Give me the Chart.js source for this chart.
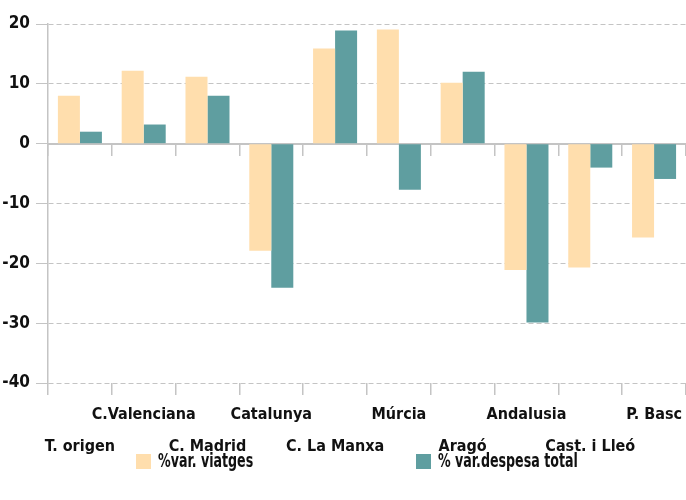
<!DOCTYPE html>
<html>
<head>
<meta charset="utf-8">
<script src="https://cdn.jsdelivr.net/npm/chart.js@4/dist/chart.umd.min.js"></script>
<style>
  html, body { margin: 0; padding: 0; background: #ffffff; }
  #wrap { width: 686px; height: 500px; position: relative; }
</style>
</head>
<body>
<div id="wrap"><canvas id="c" width="686" height="500"></canvas></div>
<script>
const categories = ['T. origen', 'C.Valenciana', 'C. Madrid', 'Catalunya', 'C. La Manxa', 'Múrcia', 'Aragó', 'Andalusia', 'Cast. i Lleó', 'P. Basc'];
const varViatges = [8.0, 12.2, 11.2, -17.9, 15.9, 19.1, 10.2, -21.1, -20.7, -15.7];
const varDespesa = [2.0, 3.2, 8.0, -24.1, 18.9, -7.7, 12.0, -29.9, -4.0, -5.9];
const seriesNames = ['%var. viatges', '% var.despesa total'];
const yMin = -40, yMax = 20, yStep = 10;

const FONT = "'DejaVu Sans Condensed', 'Liberation Sans Narrow', sans-serif";
const GRID = '#c4c4c4';

const bottomLegend = {
  id: 'bottomLegend',
  afterDraw(chart) {
    const ctx = chart.ctx;
    const lefts = [136, 416];
    ctx.save();
    ctx.font = 'bold 19px ' + FONT;
    ctx.textBaseline = 'middle';
    ctx.textAlign = 'left';
    chart.data.datasets.forEach((ds, i) => {
      ctx.fillStyle = ds.backgroundColor;
      ctx.fillRect(lefts[i], 454, 15, 15);
      ctx.save();
      ctx.translate(lefts[i] + 22, 462);
      ctx.scale(0.74, 1);
      ctx.fillStyle = '#111111';
      ctx.fillText(ds.label, 0, 0);
      ctx.restore();
    });
    ctx.restore();
  }
};

new Chart(document.getElementById('c'), {
  type: 'bar',
  data: {
    labels: categories,
    datasets: [
      { label: seriesNames[0], data: varViatges, backgroundColor: '#FFDEAD', xAxisID: 'x', yAxisID: 'y' },
      { label: seriesNames[1], data: varDespesa, backgroundColor: '#5F9EA0', xAxisID: 'x', yAxisID: 'y' }
    ]
  },
  options: {
    responsive: false,
    animation: false,
    devicePixelRatio: 1,
    categoryPercentage: 0.69,
    barPercentage: 1.0,
    layout: { padding: { top: 24, right: -2, bottom: 0, left: 0 } },
    plugins: {
      legend: { display: false },
      tooltip: { enabled: false }
    },
    scales: {
      x: {
        type: 'category',
        position: 'bottom',
        offset: true,
        afterFit: s => { s.height = 117; },
        grid: { offset: true, drawOnChartArea: false, drawTicks: true, tickLength: 12, color: GRID, lineWidth: 1.5 },
        border: { display: false },
        ticks: {
          autoSkip: false, maxRotation: 0, minRotation: 0, padding: 4,
          color: '#111111',
          font: { family: FONT, size: 16, weight: 'bold', lineHeight: 2.0 },
          callback: function (value, index) {
            const l = this.getLabelForValue(value);
            return index % 2 === 0 ? ['', l] : [l, ''];
          }
        }
      },
      x0: {
        type: 'category',
        position: { y: 0 },
        offset: true,
        grid: { offset: true, drawOnChartArea: false, drawTicks: true, tickLength: 11, color: GRID, lineWidth: 1.5 },
        border: { display: true, color: GRID, width: 2 },
        ticks: { display: false }
      },
      y: {
        min: yMin, max: yMax,
        afterFit: s => { s.width = 48; },
        grid: { color: GRID, lineWidth: 1, tickLength: 12, drawTicks: true, tickColor: GRID },
        border: { display: true, color: GRID, width: 1.5, dash: [5, 3] },
        ticks: {
          stepSize: yStep, padding: 6, color: '#111111',
          font: { family: FONT, size: 17, weight: 'bold' }
        }
      }
    }
  },
  plugins: [bottomLegend]
});
</script>
</body>
</html>
